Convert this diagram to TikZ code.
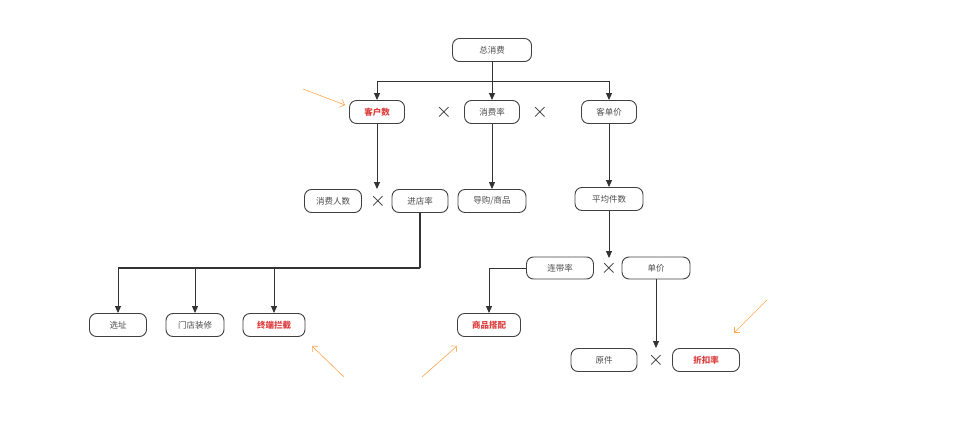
\documentclass[tikz,border=0pt]{standalone}
\usepackage{fontspec}
\newfontfamily\cjk{Noto Sans CJK SC}
\usetikzlibrary{arrows.meta}
\definecolor{hotred}{RGB}{222,62,62}
\begin{document}
\begin{tikzpicture}[x=1pt,y=-1pt,
 box/.style={draw=black!75,line width=0.9pt,rounded corners=7pt,minimum height=23pt,inner sep=0pt,font=\cjk\fontsize{8.5}{8.5}\selectfont,text=black!70,fill=white},
 hot/.style={box,text=hotred,font=\cjk\bfseries\fontsize{8.5}{8.5}\selectfont},
 con/.style={draw=black!80,line width=0.9pt,-{Triangle[length=7pt,width=6pt]}},
 mul/.style={font=\fontsize{22}{22}\selectfont,inner sep=0pt,text=black!85},
 note/.style={draw=orange!70,line width=0.6pt,-{Straight Barb[length=4pt]}}]
\useasboundingbox (0,0) rectangle (960,428);
\node[box,minimum width=79pt] (t) at (492,50) {总消费};
\node[hot,minimum width=55pt] (k) at (377,112) {客户数};
\node[box,minimum width=55pt] (x) at (492,112) {消费率};
\node[box,minimum width=55pt] (d) at (609,112) {客单价};
\node[mul] (m1) at (444,112) {$\times$};
\node[mul] (m2) at (540,112) {$\times$};
\node[box,minimum width=57pt] (r) at (333,201) {消费人数};
\node[mul] (m3) at (378,201) {$\times$};
\node[box,minimum width=56pt] (j) at (420,201) {进店率};
\node[box,minimum width=68pt] (g) at (492,201) {导购/商品};
\node[box,minimum width=68pt] (p) at (609,199) {平均件数};
\node[box,minimum width=57pt] (s1) at (118,325) {选址};
\node[box,minimum width=58pt] (s2) at (195,325) {门店装修};
\node[hot,minimum width=62pt] (s3) at (274,325) {终端拦截};
\node[mul] (m4) at (609,268) {$\times$};
\node[box,minimum width=67pt,minimum height=22pt] (l) at (560,268) {连带率};
\node[box,minimum width=68pt,minimum height=22pt] (u) at (656,268) {单价};
\node[hot,minimum width=63pt] (h) at (489,325) {商品搭配};
\node[mul] (m5) at (656,360) {$\times$};
\node[box,minimum width=66pt] (y) at (604,360) {原件};
\node[hot,minimum width=67pt] (z) at (706,360) {折扣率};
\coordinate (bt) at (492,81);
\draw[draw=black!80,line width=0.9pt] (t.south) -- (bt);
\draw[con] (bt) -| (k.north);
\draw[con] (bt) -- (x.north);
\draw[con] (bt) -| (d.north);
\draw[con] (k.south) -- (377,189);
\draw[con] (x.south) -- (g.north);
\draw[con] (d.south) -- (p.north);
\coordinate (jb) at (420,268);
\draw[draw=black!80,line width=1.4pt] (j.south) -- (jb);
\draw[draw=black!80,line width=1.4pt] (jb) -- (118,268);
\draw[con] (118,268) -- (s1.north);
\draw[con] (195,268) -- (s2.north);
\draw[con] (274,268) -- (s3.north);
\draw[con] (p.south) -- (609,258);
\draw[con] (l.west) -| (h.north);
\draw[con] (u.south) -- (656,348);
\coordinate (a1) at (303,89); \coordinate (a1e) at (345,105);
\coordinate (a2) at (344,377); \coordinate (a2e) at (312,346);
\coordinate (a3) at (422,377); \coordinate (a3e) at (457,346);
\coordinate (a4) at (767,300); \coordinate (a4e) at (734,333);
\draw[note] (a1) -- (a1e);
\draw[note] (a2) -- (a2e);
\draw[note] (a3) -- (a3e);
\draw[note] (a4) -- (a4e);
\end{tikzpicture}
\end{document}
